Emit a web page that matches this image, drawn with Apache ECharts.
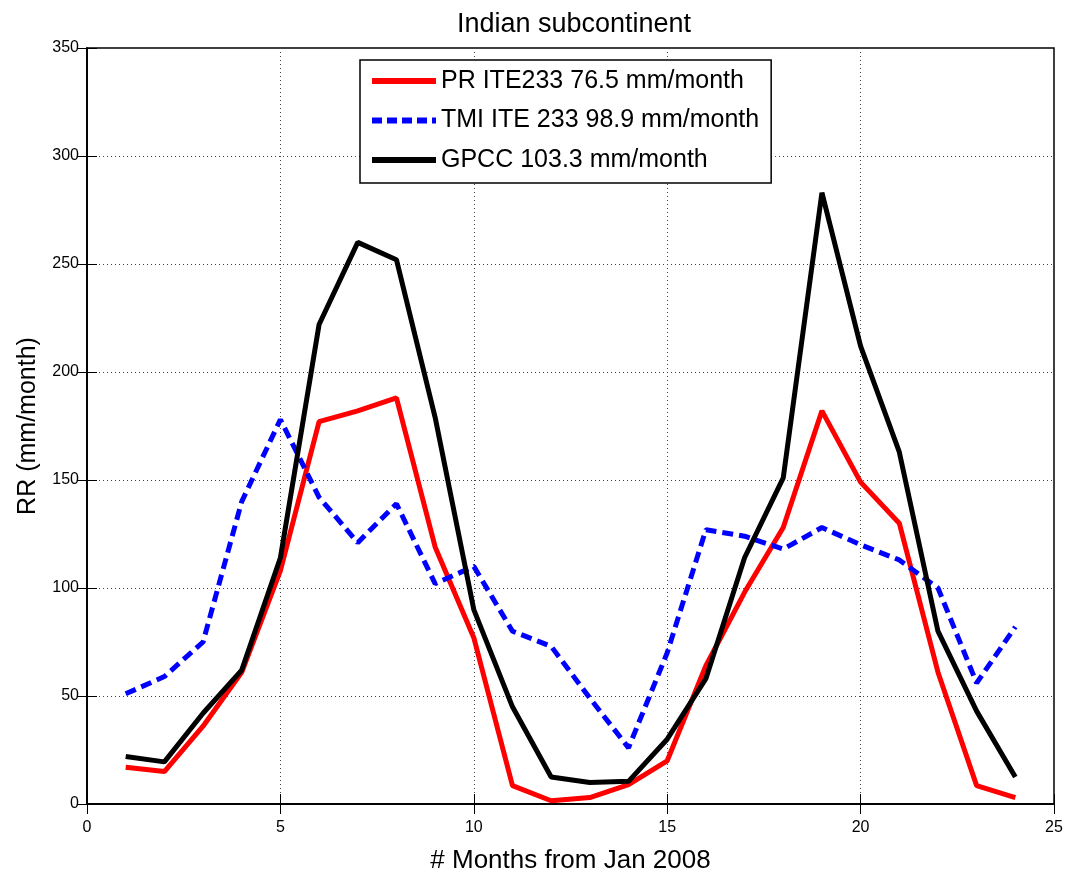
<!DOCTYPE html>
<html>
<head>
<meta charset="utf-8">
<script src="https://cdn.jsdelivr.net/npm/echarts@6/dist/echarts.min.js"></script>
<style>
  html, body { margin: 0; padding: 0; background: #fff; }
  #chart { width: 1066px; height: 879px; }
</style>
</head>
<body>
<div id="chart"></div>
<script>
// months since Jan 2008
var months = [1,2,3,4,5,6,7,8,9,10,11,12,13,14,15,16,17,18,19,20,21,22,23,24];
var prValues   = [17,15,36,61,108,177,182,188,119,77,8.5,1.5,3,9,20,64,98,128,182,149,130,61,8.5,3];
var tmiValues  = [51,59,75,140,178,142,121,139,102,110,80,73,49,26,70,127,124,118,128,120,113,100,56,82];
var gpccValues = [22,19.5,42,62,114,222,260,252,179,90,45,12.5,10,10.5,30,58,114,151,283,212,163,80,43,12.5];
var seriesNames = ['PR ITE233 76.5 mm/month', 'TMI ITE 233 98.9 mm/month', 'GPCC 103.3 mm/month'];

function pairs(vals) {
  return months.map(function (m, i) { return [m, vals[i]]; });
}

// legend swatches: thick solid bar and a dashed one
var solidIcon = 'path://M0,0H64V6H0Z';
var dashIcon = 'path://M0,0H10V6H0Z M15,0H25V6H15Z M30,0H40V6H30Z M45,0H55V6H45Z M60,0H64V6H60Z';

var font = 'Liberation Sans';
var chart = echarts.init(document.getElementById('chart'));

var option = {
  backgroundColor: '#fff',
  animation: false,
  title: {
    text: 'Indian subcontinent',
    left: 569,
    textAlign: 'center',
    top: 6,
    textStyle: { fontFamily: font, fontSize: 27, fontWeight: 'normal', color: '#000' }
  },
  legend: {
    orient: 'vertical',
    left: 360,
    top: 60,
    padding: [7, 12, 9, 12],
    borderColor: '#000',
    borderWidth: 1.5,
    backgroundColor: '#fff',
    itemWidth: 64,
    itemHeight: 6,
    itemGap: 11.5,
    symbolKeepAspect: false,
    textStyle: { fontFamily: font, fontSize: 25, lineHeight: 28, color: '#000' },
    data: [
      { name: seriesNames[0], icon: solidIcon, itemStyle: { color: '#ff0000' } },
      { name: seriesNames[1], icon: dashIcon, itemStyle: { color: '#0000ff' } },
      { name: seriesNames[2], icon: solidIcon, itemStyle: { color: '#000000' } }
    ]
  },
  grid: {
    left: 87, right: 12, top: 48, bottom: 69,
    show: true, borderColor: '#000', borderWidth: 1.5
  },
  xAxis: [{
    type: 'value', min: 0, max: 25, interval: 5,
    name: '# Months from Jan 2008',
    nameLocation: 'middle', nameGap: 44,
    nameTextStyle: { fontFamily: font, fontSize: 26, color: '#000' },
    axisLine: { show: true, lineStyle: { color: '#000', width: 1.5 } },
    axisTick: { inside: true, length: 10, lineStyle: { color: '#000' } },
    axisLabel: { fontFamily: font, fontSize: 16, color: '#000', margin: 16 },
    splitLine: { show: true, lineStyle: { color: '#444', type: [1, 3], width: 1 } }
  }, {
    type: 'value', min: 0, max: 25, interval: 5, position: 'top',
    axisLine: { show: true, lineStyle: { color: '#000', width: 1.5 } },
    axisTick: { inside: true, length: 10, lineStyle: { color: '#000' } },
    axisLabel: { show: false }, splitLine: { show: false }
  }],
  yAxis: [{
    type: 'value', min: 0, max: 350, interval: 50,
    name: 'RR (mm/month)',
    nameLocation: 'middle', nameGap: 46,
    nameTextStyle: { fontFamily: font, fontSize: 25, color: '#000' },
    axisLine: { show: true, lineStyle: { color: '#000', width: 1.5 } },
    axisTick: { inside: true, length: 10, lineStyle: { color: '#000' } },
    axisLabel: { fontFamily: font, fontSize: 16, color: '#000', margin: 8 },
    splitLine: { show: true, lineStyle: { color: '#444', type: [1, 3], width: 1 } }
  }, {
    type: 'value', min: 0, max: 350, interval: 50, position: 'right',
    axisLine: { show: true, lineStyle: { color: '#000', width: 1.5 } },
    axisTick: { inside: true, length: 10, lineStyle: { color: '#000' } },
    axisLabel: { show: false }, splitLine: { show: false }
  }],
  series: [{
    name: seriesNames[0], type: 'line', data: pairs(prValues),
    symbol: 'none', color: '#ff0000',
    lineStyle: { color: '#ff0000', width: 5 }
  }, {
    name: seriesNames[1], type: 'line', data: pairs(tmiValues),
    symbol: 'none', color: '#0000ff',
    lineStyle: { color: '#0000ff', width: 5, type: [11, 6] }
  }, {
    name: seriesNames[2], type: 'line', data: pairs(gpccValues),
    symbol: 'none', color: '#000000',
    lineStyle: { color: '#000000', width: 5 }
  }]
};

chart.setOption(option);
</script>
</body>
</html>
